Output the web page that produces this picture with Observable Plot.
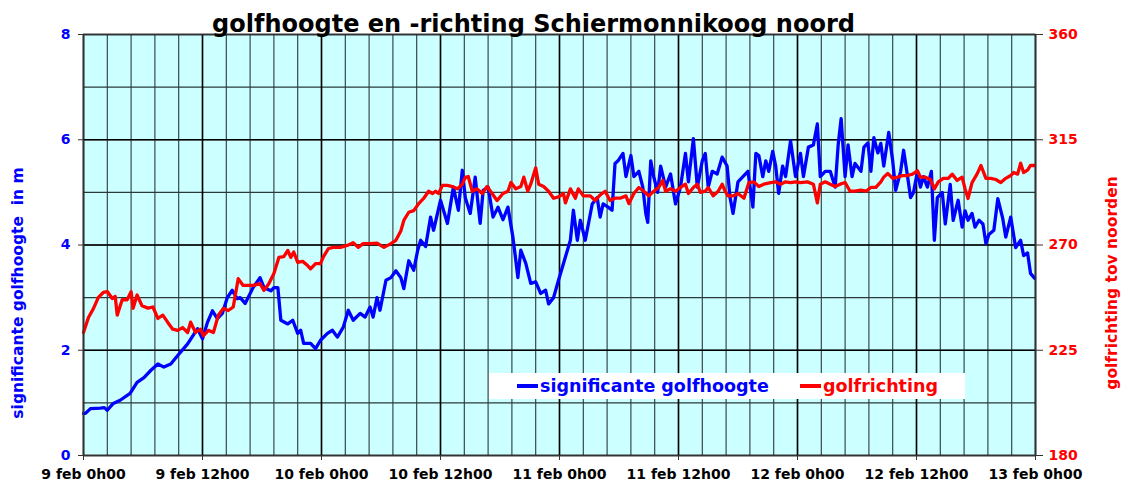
<!DOCTYPE html>
<html>
<head>
<meta charset="utf-8">
<script src="https://cdn.jsdelivr.net/npm/d3@7"></script>
<script src="https://cdn.jsdelivr.net/npm/@observablehq/plot@0.6"></script>
<style>
  body { margin: 0; background: white; font-family: "DejaVu Sans", Verdana, sans-serif; }
  #wrap { position: relative; width: 1122px; height: 483px; }
  #legend { position: absolute; left: 489px; top: 373px; width: 476px; height: 26px; background: white;
            font-weight: bold; font-size: 17.5px; line-height: 26px; white-space: nowrap; }
  #legend .item { position: absolute; top: 0; }
  #legend .dash { display: inline-block; width: 21px; height: 3.5px; vertical-align: middle; margin-right: 2px; position: relative; top: -1px; }
</style>
</head>
<body>
<div id="wrap"></div>
<script>
// ---- data (hours since 9 feb 0h00) ----
const hoogteHours = [0.0,0.2,0.7,1.7,2.1,2.4,3.0,3.7,4.7,5.4,6.1,6.8,7.5,8.1,8.8,9.5,10.5,11.5,12.0,12.5,13.0,13.5,14.0,14.5,15.0,15.5,15.8,16.3,17.1,17.8,18.2,18.9,19.2,19.6,19.9,20.6,21.1,21.6,21.9,22.2,22.9,23.4,23.9,24.6,25.1,25.6,26.2,26.7,27.2,27.9,28.4,28.9,29.2,29.6,29.9,30.5,31.0,31.5,32.0,32.3,32.8,33.3,33.7,34.0,34.5,35.0,35.3,36.0,36.7,37.3,37.8,38.2,38.5,39.0,39.5,40.0,40.3,40.8,41.3,41.8,42.3,42.8,43.3,43.6,43.8,44.1,44.6,45.1,45.6,46.1,46.6,46.9,47.4,47.9,48.4,49.1,49.4,49.8,50.1,50.6,51.3,51.8,52.1,52.4,52.9,53.3,53.6,53.9,54.4,54.7,55.2,55.5,56.0,56.4,56.7,56.9,57.2,57.5,57.9,58.2,58.7,59.2,59.7,60.2,60.7,61.0,61.5,61.9,62.4,62.7,63.0,63.4,63.9,64.4,64.9,65.2,65.5,66.0,66.5,67.0,67.5,67.8,68.1,68.5,68.8,69.1,69.5,69.8,70.1,70.5,70.8,71.3,71.8,72.3,72.6,73.1,73.6,74.0,74.3,74.8,75.3,75.8,76.1,76.4,76.8,77.1,77.5,77.8,78.4,78.7,79.1,79.4,79.7,80.1,80.4,80.7,81.2,81.6,81.9,82.4,82.7,83.1,83.4,83.7,84.1,84.4,84.7,85.1,85.5,85.8,86.1,86.6,86.9,87.4,87.7,88.2,88.6,88.9,89.2,89.6,89.9,90.3,90.7,91.0,91.3,91.8,92.2,92.7,93.0,93.5,94.0,94.5,94.8,95.2,95.5,95.9];
const golfhoogte = [0.80,0.80,0.89,0.90,0.91,0.86,0.99,1.05,1.18,1.39,1.48,1.62,1.74,1.68,1.74,1.90,2.12,2.41,2.22,2.53,2.75,2.60,2.70,3.00,3.14,2.98,3.00,2.89,3.19,3.38,3.19,3.13,3.19,3.19,2.57,2.50,2.57,2.32,2.38,2.13,2.13,2.03,2.19,2.32,2.38,2.25,2.44,2.76,2.57,2.70,2.63,2.82,2.63,3.00,2.76,3.33,3.38,3.51,3.38,3.17,3.70,3.52,3.90,4.09,3.97,4.53,4.28,4.85,4.41,5.10,4.66,5.42,4.90,4.60,5.29,4.41,5.04,5.10,4.53,4.72,4.48,4.72,4.15,3.70,3.38,3.90,3.65,3.27,3.30,3.08,3.14,2.88,3.00,3.33,3.65,4.09,4.66,4.09,4.47,4.09,4.78,4.90,4.53,4.78,4.72,4.66,5.55,5.60,5.74,5.30,5.70,5.30,5.40,5.10,4.60,4.43,5.60,5.30,5.00,5.50,5.10,5.35,4.78,5.10,5.74,5.20,6.02,5.10,5.60,5.74,5.10,5.40,5.35,5.67,5.50,4.90,4.60,5.20,5.30,5.40,4.72,5.74,5.70,5.30,5.60,5.40,5.78,5.50,4.98,5.50,5.30,5.98,5.30,5.74,5.30,5.86,5.90,6.30,5.30,5.40,5.40,5.10,5.90,6.40,5.30,5.90,5.30,5.55,5.40,5.86,5.94,5.40,6.04,5.75,5.93,5.50,6.14,5.60,5.04,5.40,5.80,5.30,4.90,5.00,5.40,5.10,5.30,5.10,5.40,4.09,4.90,5.00,4.40,5.15,4.47,4.85,4.34,4.65,4.47,4.60,4.34,4.47,4.40,4.03,4.20,4.28,4.88,4.50,4.15,4.53,3.95,4.09,3.80,3.85,3.46,3.37];

const richtingHours = [0.0,0.5,1.0,1.5,2.0,2.4,2.9,3.2,3.4,3.9,4.4,4.8,5.0,5.4,5.9,6.5,7.0,7.5,8.0,8.5,9.0,9.5,10.0,10.5,10.8,11.3,11.8,12.1,12.6,13.1,13.6,14.1,14.6,15.1,15.6,16.1,16.5,17.1,17.8,18.2,18.7,19.2,19.7,20.2,20.6,20.9,21.2,21.6,22.1,22.6,22.9,23.4,23.9,24.2,24.7,25.2,25.9,26.6,27.2,27.7,28.2,28.9,29.6,30.3,31.0,31.5,32.0,32.3,32.8,33.3,33.8,34.3,34.8,35.2,35.5,35.8,36.2,36.7,37.2,37.7,38.2,38.5,38.8,39.2,39.7,40.2,40.7,41.2,41.7,42.3,42.8,43.1,43.6,44.1,44.4,44.8,45.1,45.6,45.9,46.4,46.9,47.4,47.9,48.4,48.6,49.1,49.6,49.9,50.4,51.1,51.6,52.1,52.6,53.1,53.6,54.1,54.7,55.0,55.5,56.0,56.5,57.0,57.5,58.0,58.4,58.7,59.2,59.7,60.2,60.7,61.0,61.5,61.9,62.2,62.7,63.0,63.5,64.0,64.4,64.7,65.0,65.5,66.0,66.6,67.1,67.6,68.1,68.6,69.3,69.8,70.3,70.8,71.3,71.8,72.3,73.0,73.6,74.0,74.3,74.8,75.3,75.8,76.3,76.8,77.3,77.8,78.4,78.9,79.4,79.9,80.4,80.7,81.1,81.6,82.1,82.6,83.1,83.6,84.1,84.4,84.9,85.4,85.8,86.2,86.7,87.2,87.6,88.1,88.6,88.9,89.2,89.6,90.1,90.5,91.0,91.5,92.0,92.5,93.0,93.5,93.8,94.2,94.5,94.8,95.2,95.5,95.9];
const golfrichting = [232.6,239,242.8,247.6,249.7,250.1,247.1,248,240,246.6,246.6,250,242.9,248.6,244,243,243.5,238.6,240,236.9,234,233.5,234.7,232.6,237,232.6,234,231.2,233.5,232.6,240,242.9,242,243.5,255.6,252.7,252.7,252.7,253.5,250.6,253.5,257.8,264.7,265,267.7,264.7,267,262.6,263,261.2,259.8,262,262,265,268.5,269,269,269.8,271,269,270.6,270.6,270.8,269,270.6,272,276,280.5,284,284.7,287.7,289.9,293,292,293,292,295.5,295.5,295,294,296,298.9,299.3,293,294,292,295,292,289,292,293,296.7,294,295,299,293,296,303,296,295,293,290,290.6,292,288,294,290,294,291,291,289,291.4,293,289,290,290,291,287.7,292,294.6,293,291,293,294.6,297.6,293,294,293,294.6,296,292,294.6,296,292.5,293,294.6,291,293,296,293,291,291,292,290,296.7,297,295,296,296.7,297,296,297,296.7,297,296.7,297,296,288,296,297,296,295,296,296.7,293,293,293.5,293,294.6,294.6,297,299,300.6,298.5,299,299.7,299.7,300.3,301.7,299,299,298,294,297,298.5,298.5,300.3,297.6,299,294,289.9,296.7,300.3,304,298.5,298.5,298,296.7,298.5,299.7,301,300.3,305,301,302,304,304];

const xTickHours = [0, 12, 24, 36, 48, 60, 72, 84, 96];
const xTickLabels = ["9 feb 0h00", "9 feb 12h00", "10 feb 0h00", "10 feb 12h00", "11 feb 0h00", "11 feb 12h00", "12 feb 0h00", "12 feb 12h00", "13 feb 0h00"];
const leftTicks = [0, 2, 4, 6, 8];
const rightTickLabels = [180, 225, 270, 315, 360];

const titleText = "golfhoogte en -richting Schiermonnikoog noord";
const leftTitle = "significante golfhoogte\u00a0 in m";
const rightTitle = "golfrichting tov noorden";

// ---- derived tables ----
const dirMin = 180, dirMax = 360, hMax = 8;
const toLeft = d => (d - dirMin) / (dirMax - dirMin) * hMax;
const hoogte = hoogteHours.map((t, i) => ({t, v: golfhoogte[i]}));
const richting = richtingHours.map((t, i) => ({t, v: toLeft(golfrichting[i])}));

const minorX = d3.range(0, 96.001, 2.4);
const majorX = xTickHours;
const minorY = d3.range(0, 9, 1);
const majorY = leftTicks;

const BLUE = "#0000ff", RED = "#ff0000";

const chart = Plot.plot({
  width: 1122,
  height: 483,
  marginTop: 34,
  marginBottom: 28,
  marginLeft: 83,
  marginRight: 87,
  style: {fontFamily: "DejaVu Sans, Verdana, sans-serif", fontWeight: "bold", background: "white", overflow: "visible"},
  x: {domain: [0, 96]},
  y: {domain: [0, 8]},
  marks: [
    Plot.frame({fill: "#ccffff", stroke: null}),
    Plot.ruleX(minorX, {stroke: "#2a3a3a", strokeWidth: 1.1}),
    Plot.ruleY(minorY, {stroke: "#2a3a3a", strokeWidth: 1.1}),
    Plot.ruleX(majorX, {stroke: "#000", strokeWidth: 1.6}),
    Plot.ruleY(majorY, {stroke: "#000", strokeWidth: 1.6}),
    Plot.line(hoogte, {x: "t", y: "v", stroke: BLUE, strokeWidth: 3.3, strokeLinejoin: "round"}),
    Plot.line(richting, {x: "t", y: "v", stroke: RED, strokeWidth: 3.3, strokeLinejoin: "round"}),
    Plot.frame({stroke: "#333", strokeWidth: 1.5}),
    Plot.axisX({ticks: xTickHours, tickFormat: (d, i) => xTickLabels[i], tickSize: 5, tickPadding: 9,
      fontSize: 14, fill: "#000", stroke: "#333", label: null}),
    Plot.axisY({anchor: "left", ticks: leftTicks, tickFormat: d => d, tickSize: 5, tickPadding: 8,
      fontSize: 14, fill: BLUE, stroke: "#333", label: null}),
    Plot.axisY({anchor: "right", ticks: leftTicks, tickFormat: (d, i) => rightTickLabels[i], tickSize: 7, tickPadding: 6,
      fontSize: 14, fill: RED, stroke: "#333", label: null}),
    Plot.text([titleText], {frameAnchor: "top", dx: -26, dy: -20, fontSize: 24, fontWeight: "bold", fill: "#000"}),
    Plot.text([leftTitle], {frameAnchor: "left", textAnchor: "middle", dx: -65, dy: 48, rotate: -90, fontSize: 15.5, fontWeight: "bold", fill: BLUE}),
    Plot.text([rightTitle], {frameAnchor: "right", textAnchor: "middle", dx: 77, dy: 38, rotate: -90, fontSize: 15.5, fontWeight: "bold", fill: RED})
  ]
});

const wrap = document.getElementById("wrap");
wrap.appendChild(chart);

const legend = document.createElement("div");
legend.id = "legend";
legend.innerHTML =
  `<span class="item" style="left:28px;color:${BLUE}"><span class="dash" style="background:${BLUE}"></span>significante golfhoogte</span>` +
  `<span class="item" style="left:311px;color:${RED}"><span class="dash" style="background:${RED}"></span>golfrichting</span>`;
wrap.appendChild(legend);
</script>
</body>
</html>
